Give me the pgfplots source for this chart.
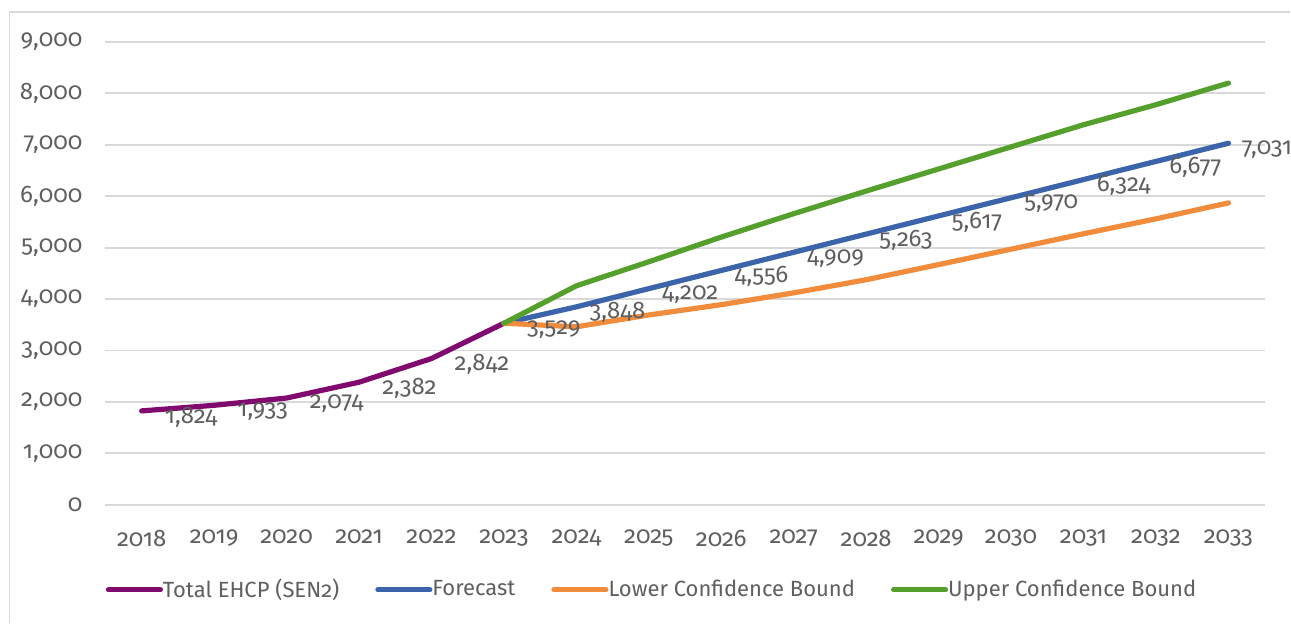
\documentclass[border=0pt]{standalone}
\usepackage{fontspec}
\setmainfont[Numbers={OldStyle,Proportional}]{Fira Sans}
\usepackage{pgfplots}
\usepackage{pgfplotstable}
\pgfplotsset{compat=1.18}

\definecolor{cPurple}{RGB}{128,10,110}
\definecolor{cBlue}{RGB}{60,100,170}
\definecolor{cOrange}{RGB}{240,140,60}
\definecolor{cGreen}{RGB}{85,160,45}
\definecolor{txt}{RGB}{95,95,95}
\definecolor{gridc}{RGB}{217,217,217}

% actual counts
\pgfplotstableread{
year val
2018 1824
2019 1933
2020 2074
2021 2382
2022 2842
2023 3529
}\actualtab
% forecast, starts at last actual value
\pgfplotstableread{
year val
2023 3529
2024 3848
2025 4202
2026 4556
2027 4909
2028 5263
2029 5617
2030 5970
2031 6324
2032 6677
2033 7031
}\forecasttab
\pgfplotstableread{
year val
2023 3529
2024 3460
2025 3690
2026 3890
2027 4120
2028 4375
2029 4670
2030 4970
2031 5270
2032 5560
2033 5870
}\lowertab
\pgfplotstableread{
year val
2023 3529
2024 4257
2025 4725
2026 5205
2027 5660
2028 6100
2029 6530
2030 6960
2031 7390
2032 7780
2033 8200
}\uppertab

\begin{document}
\begin{tikzpicture}
\begin{axis}[
  scale only axis,
  width=580pt, height=231.5pt,
  xmin=2017.5, xmax=2033.5,
  ymin=0, ymax=9000,
  xtick={2018,...,2033},
  ytick={0,1000,...,9000},
  major tick length=0pt,
  axis line style={draw=none},
  ymajorgrids,
  grid style={gridc, line width=0.9pt},
  /pgf/number format/.cd, 1000 sep={,}, assume math mode=true,
  /pgfplots/.cd,
  xticklabel style={/pgf/number format/1000 sep={}},
  tick label style={font=\fontsize{12}{14}\selectfont, text=txt},
  yticklabel style={xshift=-8pt},
  xticklabel style={yshift=-9pt},
  every axis plot/.append style={line width=2.6pt, line join=round, line cap=round},
  every node near coord/.append style={font=\fontsize{12}{14}\selectfont, text=txt, anchor=west, xshift=7pt, yshift=-3pt},
  legend columns=4,
  legend style={draw=none, at={(0,-0.184)}, anchor=west, inner xsep=0pt,
    font=\fontsize{11}{13}\selectfont, text=txt,
    /tikz/every even column/.append style={column sep=16pt},
    /tikz/every odd column/.append style={column sep=-2pt}},
  legend image code/.code={\draw[#1, line width=2.6pt, line cap=round] (0pt,0pt) -- (26pt,0pt);},
]
\addplot[cPurple, nodes near coords={\pgfmathprintnumber{\pgfplotspointmeta}}] table[x=year, y=val] {\actualtab};
\addlegendentry{Total EHCP (SEN2)}
\addplot[cBlue] table[x=year, y=val] {\forecasttab};
\addlegendentry{Forecast}
\addplot[cOrange] table[x=year, y=val] {\lowertab};
\addlegendentry{Lower Confidence Bound}
\addplot[cGreen] table[x=year, y=val] {\uppertab};
\addlegendentry{Upper Confidence Bound}
% forecast labels from 2024 on
\addplot[draw=none, forget plot, skip coords between index={0}{1},
  nodes near coords={\pgfmathprintnumber{\pgfplotspointmeta}},
  every node near coord/.append style={xshift=-5pt}]
  table[x=year, y=val] {\forecasttab};
\coordinate (sw) at (rel axis cs:0,0);
\end{axis}
\pgfresetboundingbox
\draw[gridc, line width=0.8pt] ([shift={(-48pt,-59pt)}]sw) -- ([shift={(-48pt,246.5pt)}]sw) -- ([shift={(592.75pt,246.5pt)}]sw);
\useasboundingbox ([shift={(-52.75pt,-59pt)}]sw) rectangle ([shift={(592.75pt,252.5pt)}]sw);
\end{tikzpicture}
\end{document}
